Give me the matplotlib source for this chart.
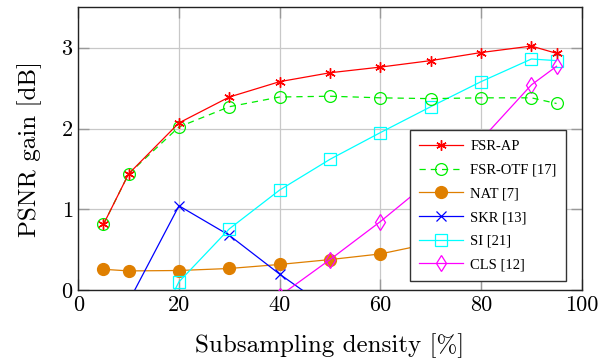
import matplotlib
matplotlib.use("Agg")
import matplotlib.pyplot as plt

# ---- data ----
x_fsr_ap = [5, 10, 20, 30, 40, 50, 60, 70, 80, 90, 95]
y_fsr_ap = [0.815, 1.44, 2.07, 2.39, 2.58, 2.69, 2.76, 2.84, 2.94, 3.02, 2.93]

x_fsr_otf = [5, 10, 20, 30, 40, 50, 60, 70, 80, 90, 95]
y_fsr_otf = [0.815, 1.44, 2.02, 2.27, 2.39, 2.40, 2.38, 2.37, 2.38, 2.38, 2.31]

x_nat = [5, 10, 20, 30, 40, 50, 60, 70, 80, 90, 95]
y_nat = [0.26, 0.24, 0.245, 0.27, 0.32, 0.38, 0.45, 0.58, 0.70, 0.80, 0.85]

x_skr = [10, 20, 30, 40, 50]
y_skr = [-0.14, 1.045, 0.68, 0.20, -0.24]

x_si = [10, 20, 30, 40, 50, 60, 70, 80, 90, 95]
y_si = [-1.12, 0.105, 0.76, 1.24, 1.62, 1.95, 2.27, 2.58, 2.86, 2.84]

x_cls = [40, 50, 60, 70, 80, 90, 95]
y_cls = [-0.07, 0.38, 0.85, 1.36, 1.86, 2.54, 2.77]

labels = ["FSR-AP", "FSR-OTF [17]", "NAT [7]", "SKR [13]", "SI [21]", "CLS [12]"]
x_ticks = [0, 20, 40, 60, 80, 100]
y_ticks = [0, 1, 2, 3]

plt.rcParams['font.family'] = ['cmr10', 'DejaVu Serif']
plt.rcParams['axes.unicode_minus'] = False
plt.rcParams['mathtext.fontset'] = 'cm'

fig = plt.figure(figsize=(6.13, 3.62), dpi=100)
ax = fig.add_axes([0.1277, 0.198, 0.8213, 0.782])

lw = 0.9
ax.plot(x_fsr_ap, y_fsr_ap, color='#ff0000', lw=lw, marker=(6, 2, 0), ms=7.5,
        mew=1.0, label=labels[0], zorder=8)
ax.plot(x_fsr_otf, y_fsr_otf, color='#00ee00', lw=lw, ls=(0, (5, 4)), marker='o', ms=8.5,
        mfc='none', mew=0.9, label=labels[1], zorder=7)
ax.plot(x_nat, y_nat, color='#df7f00', lw=lw, marker='o', ms=8.5, mec='#df7f00',
        mfc='#df7f00', label=labels[2], zorder=3)
ax.plot(x_skr, y_skr, color='#0000ff', lw=lw, marker='x', ms=7, mew=0.9,
        label=labels[3], zorder=4)
ax.plot(x_si, y_si, color='#00ffff', lw=lw, marker='s', ms=8.5, mfc='none', mew=0.9,
        label=labels[4], zorder=5)
ax.plot(x_cls, y_cls, color='#ff00ff', lw=lw, marker='d', ms=8.5, mfc='none', mew=0.9,
        label=labels[5], zorder=6)

ax.set_xlim(0, 100)
ax.set_ylim(0, 3.5)
ax.set_xticks(x_ticks)
ax.set_yticks(y_ticks)
ax.grid(True, color='#c8c8c8', lw=0.9)
ax.set_axisbelow(True)
ax.tick_params(direction='in', length=8, width=1.0, color='#999999',
               top=True, right=True, labelsize=16, pad=4)
for s in ax.spines.values():
    s.set_linewidth(1.0)
    s.set_color('#222222')

ax.set_xlabel('Subsampling density [%]', fontsize=18, labelpad=13)
ax.set_ylabel('PSNR gain [dB]', fontsize=18, labelpad=14)

leg = ax.legend(loc='lower right', bbox_to_anchor=(0.969, 0.033), borderaxespad=0,
                fancybox=False, framealpha=1, edgecolor='#333333',
                prop={'family': 'Liberation Serif', 'size': 10.5},
                handlelength=3.0, labelspacing=0.72, borderpad=0.65,
                handletextpad=0.5)
leg.get_frame().set_linewidth(1.0)
leg.set_zorder(20)

fig.savefig('out.png', dpi=100)
